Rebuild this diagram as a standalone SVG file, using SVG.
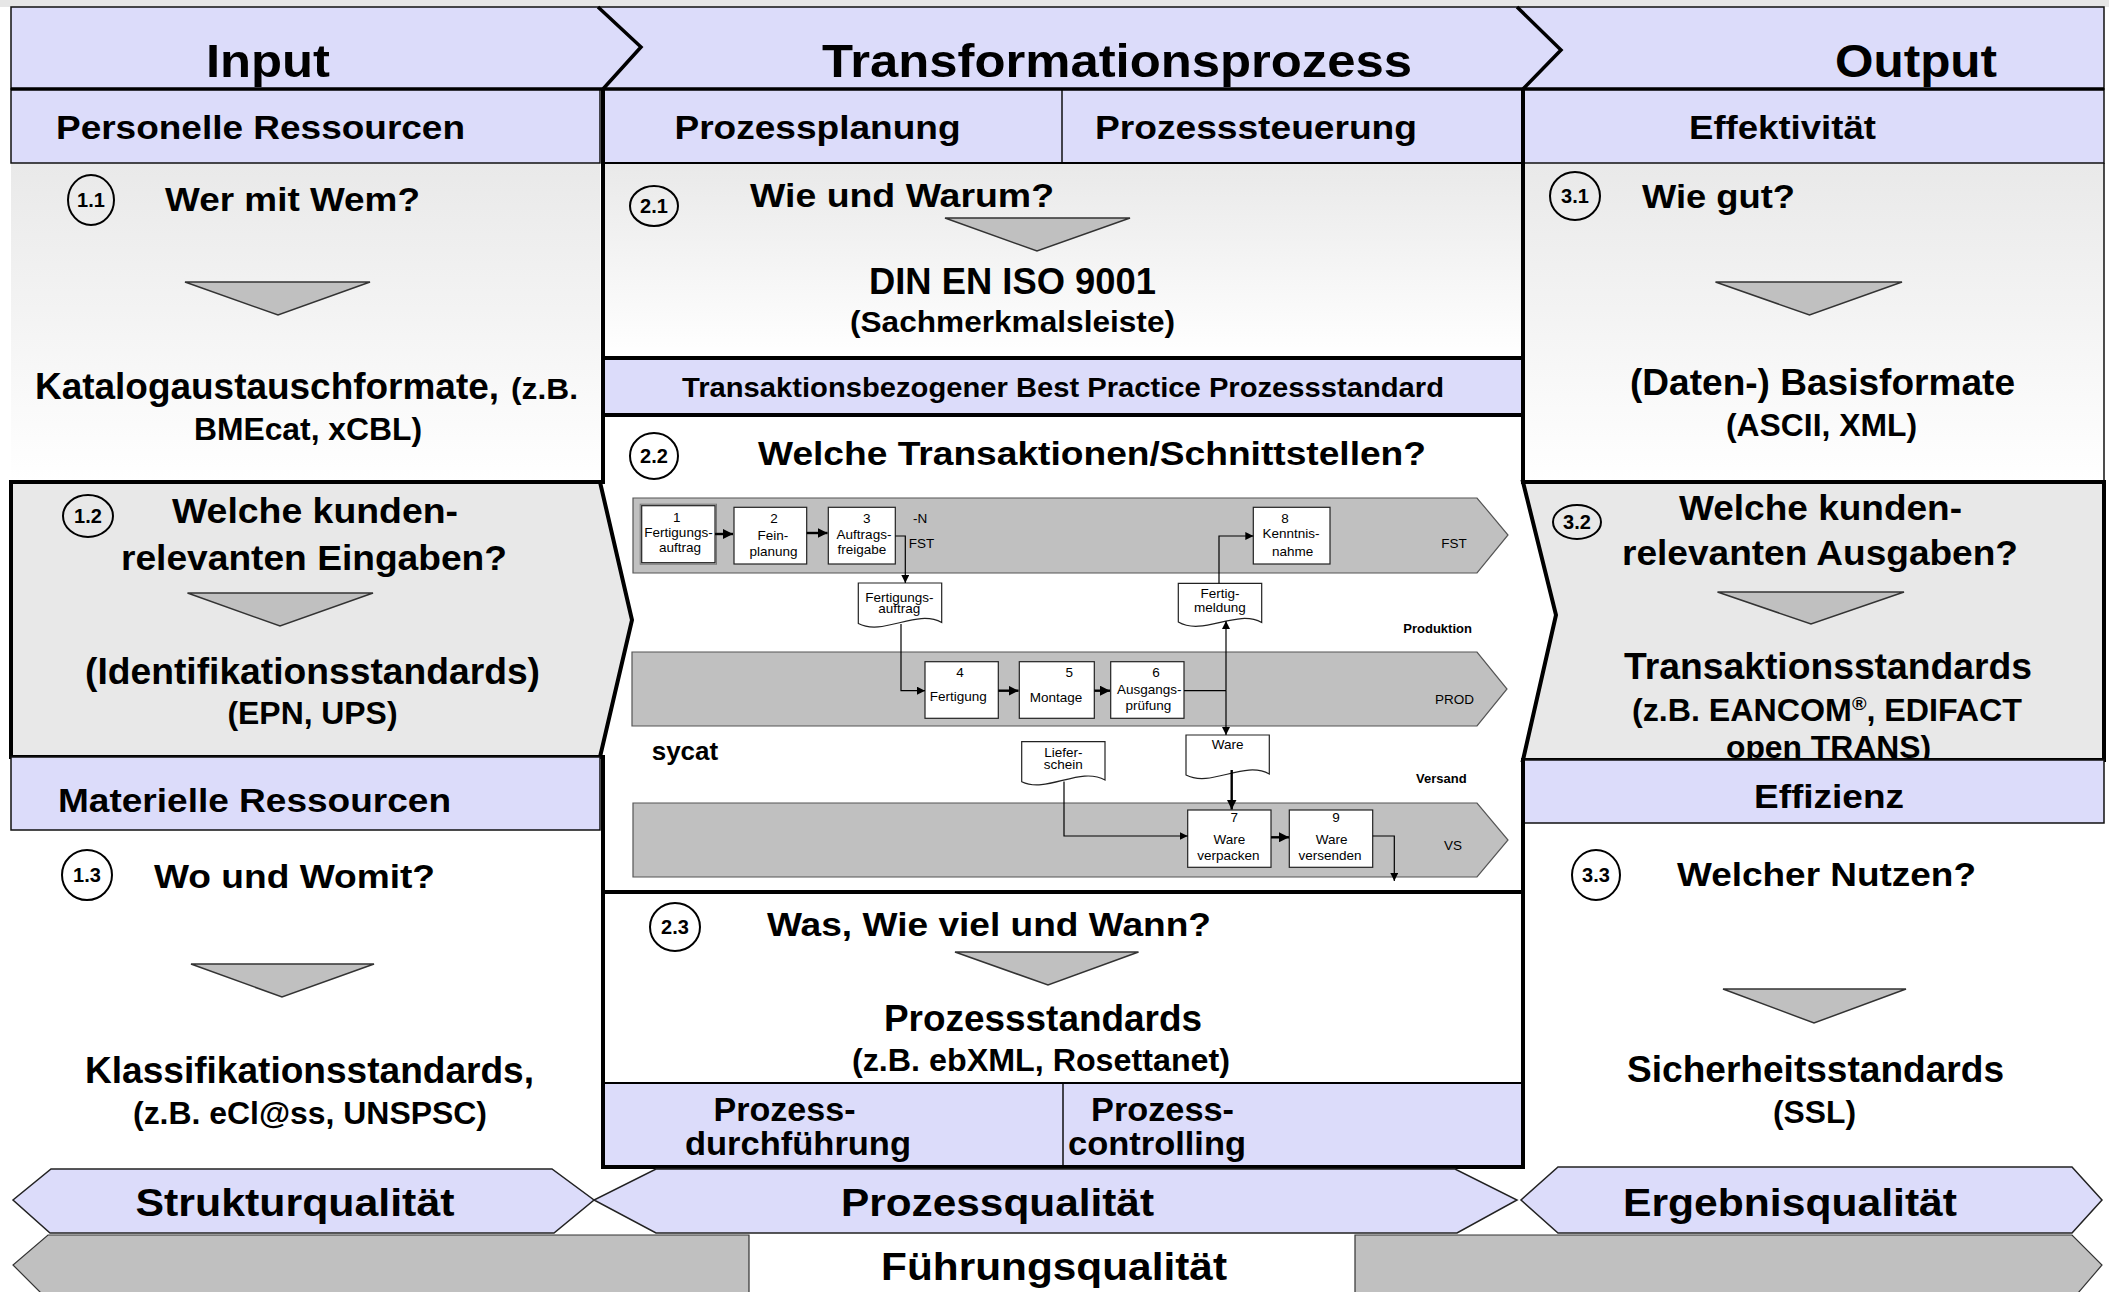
<svg xmlns="http://www.w3.org/2000/svg" width="2109" height="1292" viewBox="0 0 2109 1292">
<defs>
<style>
.t{font-family:"Liberation Sans",Arial,Helvetica,sans-serif;font-weight:bold;fill:#000;text-anchor:middle}
.ts{font-family:"Liberation Sans",Arial,Helvetica,sans-serif;font-weight:bold;fill:#000;text-anchor:start}
.f{font-family:"Liberation Sans",Arial,Helvetica,sans-serif;font-size:13.5px;fill:#000;text-anchor:middle}
.fs{font-family:"Liberation Sans",Arial,Helvetica,sans-serif;font-size:13.5px;fill:#000;text-anchor:start}
.fb{font-family:"Liberation Sans",Arial,Helvetica,sans-serif;font-size:13px;font-weight:bold;fill:#000;text-anchor:start}
.lav{fill:#dcdcfa;stroke:#111;stroke-width:1.5}
.thick{stroke:#000;stroke-width:4;fill:none}
.mid{stroke:#000;stroke-width:2;fill:none}
.tri{fill:#c0c0c0;stroke:#333;stroke-width:1.5}
.circ{fill:none;stroke:#000;stroke-width:2}
.cn{font-family:"Liberation Sans",Arial,Helvetica,sans-serif;font-weight:bold;font-size:20px;fill:#000;text-anchor:middle}
.lane{fill:#c0c0c0;stroke:#555;stroke-width:1.2}
.box{fill:#fff;stroke:#222;stroke-width:1.2}
.doc{fill:#fff;stroke:#222;stroke-width:1.2}
.con{fill:none;stroke:#000;stroke-width:1.2}
.conb{fill:none;stroke:#000;stroke-width:2.4}
.hex{fill:#dcdcfa;stroke:#222;stroke-width:1.5}
.gray{fill:#c0c0c0;stroke:#333;stroke-width:1.2}
</style>
<linearGradient id="grad" x1="0" y1="0" x2="0" y2="1">
<stop offset="0" stop-color="#e9e9e9"/>
<stop offset="1" stop-color="#ffffff"/>
</linearGradient>
<marker id="ah" viewBox="0 0 10 10" refX="10" refY="5" markerWidth="8" markerHeight="8" markerUnits="userSpaceOnUse" orient="auto">
<path d="M0,0 L10,5 L0,10 z" fill="#000"/>
</marker>
<marker id="ahb" viewBox="0 0 10 10" refX="10" refY="5" markerWidth="10" markerHeight="10" markerUnits="userSpaceOnUse" orient="auto">
<path d="M0,0 L10,5 L0,10 z" fill="#000"/>
</marker>
</defs>

<rect x="0" y="0" width="2109" height="1292" fill="#fff"/>
<rect x="0" y="0" width="2109" height="7" fill="#e6e6e6"/>

<!-- Header -->
<g id="header">
<rect x="11" y="7" width="2093" height="82" class="lav"/>
<text class="t" x="268" y="77" font-size="46" textLength="124" lengthAdjust="spacingAndGlyphs">Input</text>
<text class="t" x="1117" y="77" font-size="46" textLength="590" lengthAdjust="spacingAndGlyphs">Transformationsprozess</text>
<text class="t" x="1916" y="77" font-size="46" textLength="162" lengthAdjust="spacingAndGlyphs">Output</text>
</g>

<!-- Section backgrounds -->
<g id="backgrounds">
<rect x="11" y="163" width="589" height="319" fill="url(#grad)"/>
<rect x="603" y="163" width="920" height="195" fill="url(#grad)"/>
<rect x="1523" y="163" width="581" height="319" fill="url(#grad)"/>
<line x1="2104" y1="163" x2="2104" y2="482" stroke="#111" stroke-width="1.5"/>
</g>

<g id="band-personelle">
<rect x="11" y="89" width="589" height="74" class="lav"/>
<text class="t" x="260.5" y="139" font-size="34" textLength="409" lengthAdjust="spacingAndGlyphs">Personelle Ressourcen</text>
</g>
<g id="band-planung-steuerung">
<rect x="603" y="89" width="920" height="74" class="lav"/>
<line x1="1062" y1="89" x2="1062" y2="163" stroke="#111" stroke-width="1.5"/>
<text class="t" x="817.5" y="139" font-size="34" textLength="286" lengthAdjust="spacingAndGlyphs">Prozessplanung</text>
<text class="t" x="1256" y="139" font-size="34" textLength="322" lengthAdjust="spacingAndGlyphs">Prozesssteuerung</text>
<line x1="603" y1="163" x2="1523" y2="163" class="mid"/>
</g>
<g id="band-effektivitaet">
<rect x="1523" y="89" width="581" height="74" class="lav"/>
<text class="t" x="1782.5" y="139" font-size="34" textLength="187" lengthAdjust="spacingAndGlyphs">Effektivität</text>
</g>

<g id="band-transaktion">
<rect x="603" y="358" width="920" height="57" fill="#dcdcfa"/>
<text class="t" x="1063" y="397" font-size="27" textLength="762" lengthAdjust="spacingAndGlyphs">Transaktionsbezogener Best Practice Prozessstandard</text>
</g>

<g id="band-durchfuehrung-controlling">
<rect x="603" y="1083" width="920" height="84" fill="#dcdcfa"/>
<line x1="1063" y1="1083" x2="1063" y2="1167" stroke="#111" stroke-width="1.5"/>
<text class="t" x="784.5" y="1121" font-size="33" textLength="142" lengthAdjust="spacingAndGlyphs">Prozess-</text>
<text class="t" x="798" y="1155" font-size="33" textLength="226" lengthAdjust="spacingAndGlyphs">durchführung</text>
<text class="t" x="1162.5" y="1121" font-size="33" textLength="143" lengthAdjust="spacingAndGlyphs">Prozess-</text>
<text class="t" x="1157" y="1155" font-size="33" textLength="178" lengthAdjust="spacingAndGlyphs">controlling</text>
</g>

<!-- Middle column frame lines -->
<g id="frame">
<line x1="603" y1="89" x2="603" y2="484" class="thick"/>
<line x1="603" y1="755" x2="603" y2="1169" class="thick"/>
<line x1="1523" y1="89" x2="1523" y2="484" class="thick"/>
<line x1="1523" y1="758" x2="1523" y2="1169" class="thick"/>
<line x1="603" y1="358" x2="1523" y2="358" class="thick"/>
<line x1="603" y1="415" x2="1523" y2="415" class="thick"/>
<line x1="603" y1="892" x2="1523" y2="892" class="thick"/>
<line x1="603" y1="1083" x2="1523" y2="1083" class="mid"/>
<line x1="601" y1="1167" x2="1525" y2="1167" class="thick"/>
<line x1="11" y1="89" x2="2104" y2="89" stroke="#000" stroke-width="3.5"/>
<polyline points="598,7 641,47 603,89" fill="none" stroke="#000" stroke-width="3.5"/>
<polyline points="1517,7 1561,50 1523,89" fill="none" stroke="#000" stroke-width="3.5"/>
</g>

<!-- Section 1.1 -->
<g id="sec-1-1">
<ellipse cx="91" cy="200" rx="23" ry="25" class="circ"/>
<text class="cn" x="91" y="207">1.1</text>
<text class="t" x="292.5" y="211" font-size="33" textLength="255" lengthAdjust="spacingAndGlyphs">Wer mit Wem?</text>
<polygon points="185,282 370,282 278,315" class="tri"/>
<text class="ts" x="35" y="399" font-size="37" textLength="464" lengthAdjust="spacingAndGlyphs">Katalogaustauschformate,</text>
<text class="ts" x="511" y="399" font-size="30" textLength="67" lengthAdjust="spacingAndGlyphs">(z.B.</text>
<text class="t" x="308" y="440" font-size="31" textLength="228" lengthAdjust="spacingAndGlyphs">BMEcat, xCBL)</text>
</g>

<!-- Section 1.2 -->
<g id="sec-1-2">
<polygon points="11,482 600,482 632,620 600,757 11,757" fill="#e8e8e8" stroke="#000" stroke-width="4"/>
<ellipse cx="88" cy="516" rx="25" ry="21" class="circ"/>
<text class="cn" x="88" y="523">1.2</text>
<text class="t" x="315" y="523" font-size="35" textLength="286" lengthAdjust="spacingAndGlyphs">Welche kunden-</text>
<text class="t" x="314" y="570" font-size="35" textLength="386" lengthAdjust="spacingAndGlyphs">relevanten Eingaben?</text>
<polygon points="187.5,593 373,593 280,626" class="tri"/>
<text class="t" x="312.5" y="684" font-size="37" textLength="455" lengthAdjust="spacingAndGlyphs">(Identifikationsstandards)</text>
<text class="t" x="312.5" y="724" font-size="31" textLength="170" lengthAdjust="spacingAndGlyphs">(EPN, UPS)</text>
</g>

<g id="band-materielle">
<rect x="11" y="757" width="589" height="73" class="lav"/>
<text class="t" x="254.5" y="812" font-size="34" textLength="393" lengthAdjust="spacingAndGlyphs">Materielle Ressourcen</text>
</g>

<!-- Section 1.3 -->
<g id="sec-1-3">
<ellipse cx="87" cy="875" rx="25" ry="25" class="circ"/>
<text class="cn" x="87" y="882">1.3</text>
<text class="t" x="294.5" y="888" font-size="34" textLength="281" lengthAdjust="spacingAndGlyphs">Wo und Womit?</text>
<polygon points="191,964 374,964 282,997" class="tri"/>
<text class="t" x="309.5" y="1083" font-size="37" textLength="449" lengthAdjust="spacingAndGlyphs">Klassifikationsstandards,</text>
<text class="t" x="310" y="1124" font-size="31" textLength="354" lengthAdjust="spacingAndGlyphs">(z.B. eCl@ss, UNSPSC)</text>
</g>

<!-- Section 2.1 -->
<g id="sec-2-1">
<ellipse cx="654" cy="206" rx="24" ry="20" class="circ"/>
<text class="cn" x="654" y="213">2.1</text>
<text class="t" x="902" y="207" font-size="33" textLength="304" lengthAdjust="spacingAndGlyphs">Wie und Warum?</text>
<polygon points="945,218 1130,218 1037,251" class="tri"/>
<text class="t" x="1012.5" y="294" font-size="36" textLength="287" lengthAdjust="spacingAndGlyphs">DIN EN ISO 9001</text>
<text class="t" x="1012.5" y="332" font-size="30" textLength="325" lengthAdjust="spacingAndGlyphs">(Sachmerkmalsleiste)</text>
</g>

<!-- Section 2.2 -->
<g id="sec-2-2">
<ellipse cx="654" cy="456" rx="24" ry="23" class="circ"/>
<text class="cn" x="654" y="463">2.2</text>
<text class="t" x="1092" y="465" font-size="34" textLength="668" lengthAdjust="spacingAndGlyphs">Welche Transaktionen/Schnittstellen?</text>
</g>

<!-- Flow lanes -->
<g id="lane-fst">
<polygon points="633,498 1477,498 1508,535 1477,573 633,573" class="lane"/>
<text class="f" x="1454" y="548.3">FST</text>
</g>
<g id="lane-prod">
<polygon points="632,652 1477,652 1507,689 1477,726 632,726" class="lane"/>
<text class="f" x="1454.5" y="704">PROD</text>
</g>
<g id="lane-vs">
<polygon points="633,803 1477,803 1508,840 1477,877 633,877" class="lane"/>
<text class="f" x="1453" y="850">VS</text>
</g>
<g id="lane-labels">
<text class="fs" x="913" y="522.7">-N</text>
<text class="fs" x="908.7" y="548">FST</text>
<text class="fb" x="1403.3" y="632.7">Produktion</text>
<text class="fb" x="1416" y="782.7">Versand</text>
<text class="ts" x="651.7" y="760" font-size="26">sycat</text>
</g>

<!-- Flow boxes -->
<g id="box-1">
<rect x="640.2" y="504.2" width="76.3" height="60" fill="none" stroke="#777" stroke-width="1"/>
<rect x="641.7" y="505.7" width="73.3" height="57" class="box"/>
<text class="f" x="676.7" y="521.7">1</text>
<text class="f" x="678.5" y="537">Fertigungs-</text>
<text class="f" x="680" y="552">auftrag</text>
</g>
<g id="box-2">
<rect x="734" y="507.3" width="72.7" height="56.7" class="box"/>
<text class="f" x="774" y="523">2</text>
<text class="f" x="773" y="540">Fein-</text>
<text class="f" x="773.5" y="556">planung</text>
</g>
<g id="box-3">
<rect x="828.3" y="507.3" width="67" height="56.7" class="box"/>
<text class="f" x="866.7" y="523">3</text>
<text class="f" x="864" y="539">Auftrags-</text>
<text class="f" x="862" y="554">freigabe</text>
</g>
<g id="box-8">
<rect x="1253.3" y="507.3" width="76.7" height="56.7" class="box"/>
<text class="f" x="1285" y="523">8</text>
<text class="f" x="1291" y="538.3">Kenntnis-</text>
<text class="f" x="1292.7" y="556">nahme</text>
</g>
<g id="box-4">
<rect x="925" y="661.7" width="73.3" height="56.6" class="box"/>
<text class="f" x="960" y="676.7">4</text>
<text class="f" x="958.3" y="700.7">Fertigung</text>
</g>
<g id="box-5">
<rect x="1019.3" y="661.7" width="75" height="56.6" class="box"/>
<text class="f" x="1069.3" y="676.7">5</text>
<text class="f" x="1056" y="701.7">Montage</text>
</g>
<g id="box-6">
<rect x="1110.7" y="661.7" width="73.3" height="56.6" class="box"/>
<text class="f" x="1156" y="676.7">6</text>
<text class="f" x="1149.3" y="694.3">Ausgangs-</text>
<text class="f" x="1148.3" y="710">prüfung</text>
</g>
<g id="box-7">
<rect x="1187.7" y="810" width="83.3" height="57.3" class="box"/>
<text class="f" x="1234.3" y="821.7">7</text>
<text class="f" x="1229.3" y="844">Ware</text>
<text class="f" x="1228.3" y="860">verpacken</text>
</g>
<g id="box-9">
<rect x="1289.3" y="810" width="83.4" height="57.3" class="box"/>
<text class="f" x="1336" y="821.7">9</text>
<text class="f" x="1331.7" y="844">Ware</text>
<text class="f" x="1330" y="860">versenden</text>
</g>

<!-- Documents -->
<g id="doc-fertigungsauftrag">
<path d="M858.3,583 H941.7 V622.5 C916.7,608.5 883.3,636.5 858.3,623.5 Z" class="doc"/>
<text class="f" x="899.3" y="601.7">Fertigungs-</text>
<text class="f" x="899.3" y="613.3">auftrag</text>
</g>
<g id="doc-fertigmeldung">
<path d="M1178.3,583.3 H1261.7 V622.5 C1236.7,608.5 1203.3,636.5 1178.3,622 Z" class="doc"/>
<text class="f" x="1220" y="598.3">Fertig-</text>
<text class="f" x="1220" y="611.7">meldung</text>
</g>
<g id="doc-ware">
<path d="M1186,735 H1269.3 V774 C1244.3,760 1211,788 1186,775 Z" class="doc"/>
<text class="f" x="1227.7" y="749.3">Ware</text>
</g>
<g id="doc-lieferschein">
<path d="M1021.7,741.7 H1105 V780 C1080,766 1046.7,794 1021.7,781.7 Z" class="doc"/>
<text class="f" x="1063.3" y="756.7">Liefer-</text>
<text class="f" x="1063.3" y="769.3">schein</text>
</g>

<!-- Connectors -->
<g id="connectors">
<path d="M715,534 H733" class="conb" marker-end="url(#ahb)"/>
<path d="M806.7,533 H827.5" class="conb" marker-end="url(#ahb)"/>
<path d="M895.3,536 H905.3 V583" class="con" marker-end="url(#ah)"/>
<path d="M901,624 V690.7 H925" class="con" marker-end="url(#ah)"/>
<path d="M998.3,690.7 H1018.5" class="conb" marker-end="url(#ahb)"/>
<path d="M1094.3,690.7 H1110" class="conb" marker-end="url(#ahb)"/>
<path d="M1184,690.7 H1226" class="con"/>
<path d="M1226,690.7 V621" class="con" marker-end="url(#ah)"/>
<path d="M1226,690.7 V735" class="con" marker-end="url(#ah)"/>
<path d="M1219,583.3 V536 H1253.3" class="con" marker-end="url(#ah)"/>
<path d="M1231.7,770 V809.5" class="conb" marker-end="url(#ahb)"/>
<path d="M1271,837.3 H1289" class="conb" marker-end="url(#ahb)"/>
<path d="M1372.7,836 H1394.3 V881" class="con" marker-end="url(#ah)"/>
<path d="M1064,781.5 V836 H1187.7" class="con" marker-end="url(#ah)"/>
</g>

<!-- Section 2.3 -->
<g id="sec-2-3">
<ellipse cx="675" cy="927" rx="25" ry="24" class="circ"/>
<text class="cn" x="675" y="934">2.3</text>
<text class="t" x="989" y="936" font-size="34" textLength="444" lengthAdjust="spacingAndGlyphs">Was, Wie viel und Wann?</text>
<polygon points="955,952 1138.5,952 1048,985" class="tri"/>
<text class="t" x="1043" y="1031" font-size="37" textLength="318" lengthAdjust="spacingAndGlyphs">Prozessstandards</text>
<text class="t" x="1041" y="1071" font-size="31" textLength="378" lengthAdjust="spacingAndGlyphs">(z.B. ebXML, Rosettanet)</text>
</g>

<!-- Section 3.1 -->
<g id="sec-3-1">
<ellipse cx="1575" cy="196" rx="25" ry="24" class="circ"/>
<text class="cn" x="1575" y="203">3.1</text>
<text class="t" x="1718.5" y="208" font-size="33" textLength="153" lengthAdjust="spacingAndGlyphs">Wie gut?</text>
<polygon points="1715.5,282 1902,282 1809.5,315" class="tri"/>
<text class="t" x="1822.5" y="395" font-size="37" textLength="385" lengthAdjust="spacingAndGlyphs">(Daten-) Basisformate</text>
<text class="t" x="1821.5" y="436" font-size="31" textLength="191" lengthAdjust="spacingAndGlyphs">(ASCII, XML)</text>
</g>

<!-- Section 3.2 -->
<g id="sec-3-2">
<polygon points="1523,482 2104,482 2104,760 1523,760 1556,615" fill="#e8e8e8" stroke="#000" stroke-width="4"/>
<ellipse cx="1577" cy="522" rx="24" ry="17" class="circ"/>
<text class="cn" x="1577" y="529">3.2</text>
<text class="t" x="1820.5" y="520" font-size="35" textLength="283" lengthAdjust="spacingAndGlyphs">Welche kunden-</text>
<text class="t" x="1820" y="565" font-size="35" textLength="396" lengthAdjust="spacingAndGlyphs">relevanten Ausgaben?</text>
<polygon points="1717.5,592 1904,592 1811,624" class="tri"/>
<text class="t" x="1828" y="679" font-size="36" textLength="408" lengthAdjust="spacingAndGlyphs">Transaktionsstandards</text>
<text class="t" x="1827" y="721" font-size="31" textLength="390" lengthAdjust="spacingAndGlyphs">(z.B. EANCOM<tspan font-size="19" dy="-11">®</tspan><tspan dy="11">, EDIFACT</tspan></text>
<text class="t" x="1828.5" y="758" font-size="31" textLength="205" lengthAdjust="spacingAndGlyphs">open TRANS)</text>
</g>

<g id="band-effizienz">
<rect x="1523" y="760" width="581" height="63" class="lav"/>
<line x1="1523" y1="758" x2="1523" y2="825" class="thick"/>
<text class="t" x="1829" y="808" font-size="34" textLength="150" lengthAdjust="spacingAndGlyphs">Effizienz</text>
</g>

<!-- Section 3.3 -->
<g id="sec-3-3">
<ellipse cx="1596" cy="875" rx="24" ry="25" class="circ"/>
<text class="cn" x="1596" y="882">3.3</text>
<text class="t" x="1826.5" y="886" font-size="34" textLength="299" lengthAdjust="spacingAndGlyphs">Welcher Nutzen?</text>
<polygon points="1723,989 1906,989 1814,1023" class="tri"/>
<text class="t" x="1815.5" y="1082" font-size="37" textLength="377" lengthAdjust="spacingAndGlyphs">Sicherheitsstandards</text>
<text class="t" x="1814.5" y="1123" font-size="31" textLength="83" lengthAdjust="spacingAndGlyphs">(SSL)</text>
</g>

<!-- Bottom quality bands -->
<g id="strukturqualitaet">
<polygon points="51,1169 552,1169 594,1200 554,1233 50,1233 13,1200" class="hex"/>
<text class="t" x="295" y="1216" font-size="39" textLength="319" lengthAdjust="spacingAndGlyphs">Strukturqualität</text>
</g>
<g id="prozessqualitaet">
<polygon points="656,1169 1455,1169 1517,1200 1457,1233 656,1233 594,1200" class="hex"/>
<text class="t" x="997.5" y="1216" font-size="39" textLength="313" lengthAdjust="spacingAndGlyphs">Prozessqualität</text>
</g>
<g id="ergebnisqualitaet">
<polygon points="1558,1167 2072,1167 2102,1200 2072,1233 1558,1233 1521,1200" class="hex"/>
<text class="t" x="1790" y="1216" font-size="39" textLength="334" lengthAdjust="spacingAndGlyphs">Ergebnisqualität</text>
</g>
<g id="fuehrungsqualitaet">
<polygon points="48,1235 749,1235 749,1300 48,1300 13,1265" class="gray"/>
<polygon points="1355,1235 2072,1235 2102,1265 2072,1300 1355,1300" class="gray"/>
<text class="t" x="1054" y="1280" font-size="39" textLength="346" lengthAdjust="spacingAndGlyphs">Führungsqualität</text>
</g>
</svg>
